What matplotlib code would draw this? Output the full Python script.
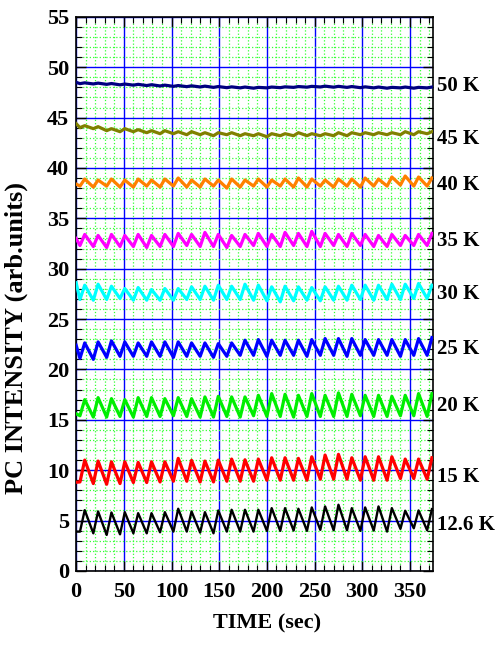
import matplotlib.pyplot as plt
from matplotlib.ticker import MultipleLocator

plt.rcParams.update({
    'font.family': 'serif',
    'font.serif': ['Liberation Serif', 'DejaVu Serif'],
    'font.weight': 'bold',
})

# extremum times (s); all traces share them
peak_t = [9, 23, 37, 51, 65, 79, 93, 107, 121, 135, 149, 163, 177, 191,
          205, 219, 233, 247, 261, 275, 289, 303, 317, 331, 345, 359, 373]
trough_t = [4, 18, 32, 46, 60, 74, 88, 102, 116, 130, 144, 158, 172, 186,
            200, 214, 228, 242, 256, 270, 284, 298, 312, 326, 340, 354, 368]

labels = ['12.6 K', '15 K', '20 K', '25 K', '30 K', '35 K', '40 K', '45 K', '50 K']
label_y = [4.6, 9.3, 16.4, 22.0, 27.5, 32.7, 38.3, 42.9, 48.1]
colors = ['#000000', '#ff0000', '#00ee00', '#0000ff', '#00ffff',
          '#ff00ff', '#ff8000', '#808000', '#000080']

start = [3.9, 8.8, 15.6, 22.4, 28.6, 33.0, 38.4, 44.4, 48.5]

k126_pk = [6.03, 5.90, 5.80, 5.83, 5.73, 5.73, 5.83, 6.17, 5.90, 5.83, 6.00, 6.07, 6.07, 6.07,
           6.23, 6.23, 6.17, 6.30, 6.40, 6.57, 6.23, 6.30, 6.40, 6.23, 5.97, 6.00, 6.13]
k126_tr = [3.90, 3.73, 3.57, 3.63, 3.73, 3.73, 3.83, 3.90, 3.90, 3.80, 3.73, 3.90, 3.90, 3.90,
           3.97, 3.97, 4.00, 3.97, 4.07, 4.03, 4.03, 3.97, 4.00, 3.90, 4.17, 4.23, 4.03]
k15_pk = [11.00, 10.90, 10.83, 10.83, 10.77, 10.83, 10.83, 11.17, 10.97, 10.90, 11.00, 11.10, 11.03, 11.10,
          11.23, 11.23, 11.17, 11.33, 11.50, 11.57, 11.23, 11.33, 11.33, 11.33, 11.10, 11.10, 11.23]
k15_tr = [8.83, 8.67, 8.60, 8.67, 8.77, 8.77, 8.83, 8.90, 8.90, 8.83, 8.83, 8.90, 8.90, 8.90,
          9.00, 9.00, 9.00, 9.00, 9.10, 9.10, 9.10, 9.00, 9.00, 9.00, 9.17, 9.17, 9.10]
k20_pk = [17.00, 17.20, 17.10, 17.00, 17.20, 17.20, 17.10, 17.20, 17.10, 17.27, 17.33, 17.27, 17.27, 17.43,
          17.60, 17.53, 17.43, 17.60, 17.43, 17.67, 17.53, 17.43, 17.43, 17.33, 17.43, 17.60, 17.60]
k20_tr = [15.40, 15.27, 15.27, 15.33, 15.27, 15.33, 15.33, 15.40, 15.33, 15.27, 15.27, 15.33, 15.27, 15.40,
          15.33, 15.33, 15.27, 15.33, 15.33, 15.33, 15.33, 15.40, 15.33, 15.33, 15.40, 15.40, 15.33]
k25_pk = [22.63, 22.73, 22.83, 22.73, 22.63, 22.73, 22.73, 22.73, 22.63, 22.63, 22.56, 22.63, 22.90, 22.96,
          22.90, 22.90, 22.90, 22.96, 23.06, 23.06, 23.06, 22.96, 22.96, 22.96, 22.96, 23.06, 23.16]
k25_tr = [21.10, 21.00, 21.20, 21.30, 21.30, 21.30, 21.30, 21.20, 21.30, 21.30, 21.20, 21.30, 21.40, 21.40,
          21.30, 21.40, 21.40, 21.30, 21.40, 21.40, 21.30, 21.40, 21.40, 21.40, 21.30, 21.40, 21.40]
k30_pk = [28.36, 28.46, 28.26, 28.03, 28.13, 27.93, 28.03, 28.03, 28.20, 28.26, 28.36, 28.26, 28.46, 28.36,
          28.20, 28.26, 28.20, 28.13, 28.20, 28.26, 28.36, 28.36, 28.36, 28.46, 28.46, 28.53, 28.36]
k30_tr = [26.94, 26.87, 26.94, 27.04, 26.87, 26.87, 26.87, 26.87, 26.94, 26.94, 26.87, 26.94, 26.94, 26.87,
          26.81, 26.71, 26.81, 26.87, 26.81, 26.87, 26.87, 26.94, 26.87, 26.94, 26.94, 27.04, 27.04]
k35_pk = [33.4, 33.3, 33.4, 33.3, 33.4, 33.3, 33.4, 33.5, 33.4, 33.6, 33.4, 33.3, 33.4, 33.5,
          33.4, 33.6, 33.5, 33.7, 33.5, 33.4, 33.5, 33.4, 33.3, 33.4, 33.3, 33.4, 33.5]
k35_tr = [32.3, 32.2, 32.1, 32.2, 32.2, 32.1, 32.2, 32.2, 32.3, 32.2, 32.2, 32.1, 32.2, 32.3,
          32.2, 32.2, 32.3, 32.2, 32.2, 32.3, 32.2, 32.3, 32.2, 32.2, 32.3, 32.3, 32.3]
k40_pk = [38.9, 38.8, 38.9, 38.8, 38.9, 38.8, 38.9, 39.0, 38.8, 38.9, 38.8, 38.9, 38.8, 38.9,
          38.8, 38.9, 39.0, 38.9, 38.8, 38.9, 38.9, 39.0, 38.9, 39.1, 39.2, 39.1, 39.0]
k40_tr = [38.2, 38.1, 38.2, 38.1, 38.1, 38.2, 38.1, 38.2, 38.1, 38.1, 38.2, 38.0, 38.1, 38.2,
          38.1, 38.2, 38.1, 38.1, 38.2, 38.1, 38.2, 38.1, 38.2, 38.2, 38.3, 38.2, 38.2]
k45_pk = [44.2, 44.1, 43.9, 43.9, 43.8, 43.7, 43.7, 43.6, 43.6, 43.5, 43.5, 43.5, 43.4, 43.4,
          43.4, 43.4, 43.5, 43.4, 43.4, 43.5, 43.5, 43.5, 43.5, 43.5, 43.6, 43.6, 43.6]
k45_tr = [44.0, 43.9, 43.7, 43.6, 43.6, 43.5, 43.4, 43.4, 43.3, 43.3, 43.2, 43.3, 43.2, 43.2,
          43.1, 43.2, 43.2, 43.2, 43.2, 43.2, 43.2, 43.3, 43.3, 43.3, 43.3, 43.3, 43.4]
k50_pk = [48.45, 48.42, 48.38, 48.33, 48.30, 48.26, 48.22, 48.18, 48.15, 48.12, 48.08, 48.05, 48.03, 48.00,
          48.03, 48.05, 48.08, 48.10, 48.12, 48.10, 48.08, 48.05, 48.03, 48.00, 48.03, 48.00, 48.03]
k50_tr = [48.37, 48.34, 48.30, 48.25, 48.22, 48.18, 48.14, 48.10, 48.07, 48.04, 48.00, 47.97, 47.95, 47.92,
          47.95, 47.97, 48.00, 48.02, 48.04, 48.02, 48.00, 47.97, 47.95, 47.92, 47.95, 47.92, 47.95]

peaks = [k126_pk, k15_pk, k20_pk, k25_pk, k30_pk, k35_pk, k40_pk, k45_pk, k50_pk]
troughs = [k126_tr, k15_tr, k20_tr, k25_tr, k30_tr, k35_tr, k40_tr, k45_tr, k50_tr]
widths = [1.7, 2.3, 2.3, 2.3, 2.3, 2.3, 2.3, 2.3, 2.3]

fig = plt.figure(figsize=(5.01, 6.48), dpi=100)
ax = fig.add_axes([0.152, 0.119, 0.712, 0.855])

for s0, pk, tr, c, lw in zip(start, peaks, troughs, colors, widths):
    t = [0]
    y = [s0]
    for i in range(len(peak_t)):
        t += [trough_t[i], peak_t[i]]
        y += [tr[i], pk[i]]
    ax.plot(t, y, color=c, lw=lw, solid_joinstyle='round', zorder=3)

for lab, ly in zip(labels, label_y):
    ax.text(1.012, ly, lab, transform=ax.get_yaxis_transform(), ha='left', va='center',
            fontsize=15, fontweight='bold')

ax.set_xlim(0, 374)
ax.set_ylim(0, 55)
ax.xaxis.set_major_locator(MultipleLocator(50))
ax.xaxis.set_minor_locator(MultipleLocator(10))
ax.yaxis.set_major_locator(MultipleLocator(5))
ax.yaxis.set_minor_locator(MultipleLocator(1))
ax.grid(which='minor', color='#33ff33', linestyle=':', linewidth=0.9, zorder=0)
ax.grid(which='major', color='#0000ff', linestyle='-', linewidth=1.0, zorder=1)
ax.set_axisbelow(True)
ax.tick_params(which='both', direction='in', top=True, right=True, color='black')
ax.tick_params(which='major', length=7, width=1.0, labelsize=16)
ax.tick_params(which='minor', length=4, width=0.8)
ax.tick_params(axis='x', pad=8)
ax.tick_params(axis='y', pad=5)
for sp in ax.spines.values():
    sp.set_color('black')
    sp.set_linewidth(1.2)

ax.set_xlabel('TIME (sec)', fontsize=16, fontweight='bold')
ax.xaxis.set_label_coords(0.535, -0.076)
ax.set_ylabel('PC INTENSITY (arb.units)', fontsize=19, fontweight='bold')
ax.yaxis.set_label_coords(-0.135, 0.42)

plt.savefig('out.png', dpi=100, facecolor='white')
